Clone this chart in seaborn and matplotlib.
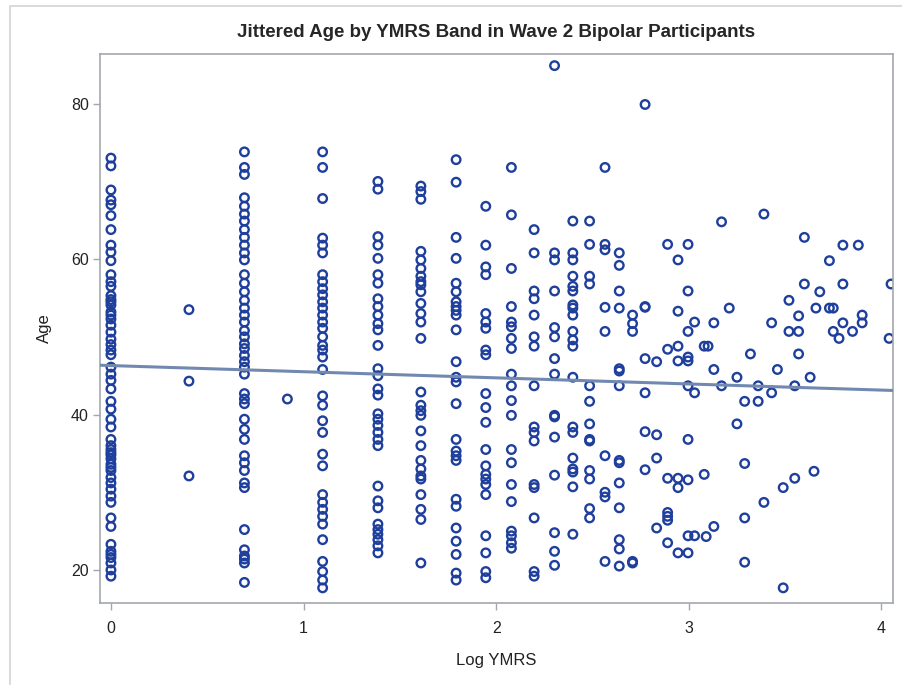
"""Jittered age by YMRS band (wave 2 bipolar participants), seaborn redraw."""
import matplotlib
matplotlib.use("Agg")
import matplotlib.pyplot as plt
import numpy as np
import pandas as pd
import seaborn as sns
from matplotlib.patches import Rectangle

# log(YMRS) bands and jittered ages
band_x = [0.0, 0.405, 0.693, 0.916, 1.099, 1.386, 1.609, 1.792, 1.946, 2.079,
          2.197, 2.303, 2.398, 2.485, 2.565, 2.639, 2.708, 2.773, 2.833, 2.890,
          2.944, 2.996]
band_age = [
    [73.0, 72.0, 68.9, 67.6, 67.0, 65.6, 63.8, 61.8, 60.9, 59.8, 58.0, 57.1,
     56.5, 55.3, 54.8, 54.5, 54.1, 53.2, 52.8, 52.3, 51.5, 50.6, 49.7, 49.0,
     48.3, 47.7, 46.1, 45.2, 44.4, 43.3, 41.7, 40.7, 39.4, 38.4, 36.8, 36.0,
     35.5, 35.1, 34.8, 34.3, 33.6, 33.2, 32.8, 31.9, 31.2, 30.4, 29.5, 28.7,
     26.7, 25.6, 23.3, 22.4, 22.0, 21.6, 20.9, 20.0, 19.2],
    [53.5, 44.3, 32.1],
    [73.8, 71.8, 70.9, 67.9, 66.8, 65.8, 64.9, 63.8, 62.8, 61.8, 60.8, 59.9,
     58.0, 56.9, 55.8, 54.7, 53.7, 52.8, 51.9, 50.8, 50.0, 49.1, 48.5, 47.6,
     46.8, 46.1, 45.2, 42.7, 42.0, 41.4, 39.4, 38.1, 36.8, 34.7, 33.8, 32.8,
     31.2, 30.6, 25.2, 22.6, 21.8, 21.4, 20.9, 18.4],
    [42.0],
    [73.8, 71.8, 67.8, 62.7, 61.8, 60.8, 58.0, 57.1, 56.2, 55.4, 54.5, 53.7,
     52.8, 51.9, 51.1, 50.0, 48.9, 48.3, 47.4, 45.8, 42.4, 41.2, 39.2, 37.7,
     34.9, 33.4, 29.7, 28.7, 27.8, 26.9, 25.9, 23.9, 21.1, 19.8, 18.7, 17.7],
    [70.0, 69.0, 62.9, 61.8, 60.1, 58.0, 56.9, 54.9, 53.9, 52.8, 51.7, 50.9,
     48.9, 45.9, 45.0, 43.3, 42.5, 40.1, 39.4, 38.6, 37.7, 36.8, 36.0, 30.8,
     28.9, 28.0, 25.9, 25.2, 24.6, 23.9, 23.1, 22.2],
    [69.4, 68.7, 67.7, 61.0, 59.9, 58.8, 57.8, 57.1, 56.7, 55.8, 54.3, 53.0,
     51.9, 49.8, 42.9, 41.2, 40.5, 39.9, 37.9, 36.0, 34.1, 33.0, 32.1, 31.7,
     29.7, 27.8, 26.5, 20.9],
    [72.8, 69.9, 62.8, 60.1, 56.9, 55.8, 54.5, 53.9, 53.4, 52.8, 50.9, 46.8,
     44.8, 44.2, 41.4, 36.8, 35.3, 34.7, 34.1, 29.1, 28.2, 25.4, 23.7, 22.0,
     19.6, 18.7],
    [66.8, 61.8, 59.0, 58.0, 53.0, 51.9, 51.1, 48.3, 47.7, 42.7, 40.9, 39.0,
     35.5, 33.4, 32.3, 31.7, 31.0, 29.7, 24.4, 22.2, 19.8, 19.0],
    [71.8, 65.7, 58.8, 53.9, 51.9, 51.3, 49.8, 48.5, 45.2, 43.7, 41.8, 39.9,
     35.5, 33.8, 31.0, 28.8, 25.0, 24.4, 23.5, 22.8],
    [63.8, 60.8, 55.9, 54.9, 52.8, 50.0, 48.8, 43.7, 38.4, 37.7, 36.6, 31.0,
     30.6, 26.7, 19.8, 19.2],
    [84.9, 60.8, 59.9, 55.9, 51.2, 50.0, 47.2, 45.2, 39.9, 39.7, 37.1, 32.2,
     24.8, 22.4, 20.6],
    [64.9, 60.8, 59.9, 57.8, 56.5, 55.9, 54.1, 53.7, 52.8, 50.7, 49.6, 48.8,
     44.8, 38.4, 37.7, 34.4, 33.0, 32.6, 30.7, 24.6],
    [64.9, 61.9, 57.8, 56.8, 43.7, 41.7, 38.8, 36.8, 36.6, 32.8, 31.7, 27.9,
     26.7],
    [71.8, 61.9, 61.2, 53.8, 50.7, 34.7, 30.0, 29.4, 21.1],
    [60.8, 59.2, 55.9, 53.7, 45.9, 45.6, 43.7, 34.1, 33.8, 31.2, 28.0, 23.9,
     22.7, 20.5],
    [52.8, 51.7, 50.7, 21.1, 20.9],
    [79.9, 53.8, 53.9, 47.2, 42.8, 37.8, 32.9],
    [46.8, 37.4, 34.4, 25.4],
    [61.9, 48.4, 31.8, 27.4, 26.9, 26.4, 23.5],
    [59.9, 53.3, 48.8, 46.9, 31.8, 30.6, 22.2],
    [61.9, 55.9, 50.7, 47.4, 46.9, 43.7, 36.8, 31.6, 24.4, 22.2],
]

# upper tail: bands thin out, points read individually
tail_x = [3.03, 3.03, 3.03, 3.08, 3.08, 3.10, 3.09, 3.13, 3.13, 3.13, 3.17,
          3.17, 3.21, 3.25, 3.25, 3.29, 3.29, 3.29, 3.29, 3.32, 3.36, 3.36,
          3.39, 3.39, 3.43, 3.43, 3.46, 3.49, 3.49, 3.52, 3.52, 3.55, 3.55,
          3.57, 3.57, 3.57, 3.60, 3.60, 3.63, 3.65, 3.66, 3.68, 3.73, 3.73,
          3.75, 3.75, 3.78, 3.80, 3.80, 3.80, 3.85, 3.88, 3.90, 3.90, 4.04,
          4.05]
tail_age = [51.9, 42.8, 24.4, 48.8, 32.3, 48.8, 24.3, 51.8, 45.8, 25.6, 64.8,
            43.7, 53.7, 44.8, 38.8, 41.7, 33.7, 26.7, 21.0, 47.8, 43.7, 41.7,
            65.8, 28.7, 51.8, 42.8, 45.8, 30.6, 17.7, 54.7, 50.7, 43.7, 31.8,
            52.7, 50.7, 47.8, 62.8, 56.8, 44.8, 32.7, 53.7, 55.8, 59.8, 53.7,
            53.7, 50.7, 49.8, 61.8, 56.8, 51.8, 50.7, 61.8, 52.8, 51.8, 49.8,
            56.8]

# fitted regression line (ends)
fit_x = [-0.06, 4.06]
fit_age = [46.35, 43.1]

x_ticks = [0, 1, 2, 3, 4]
y_ticks = [20, 40, 60, 80]

MARKER = "#1f3f9c"
FIT = "#7189b0"
FRAME = "#a3a7ab"

sns.set_style("white")
plt.rcParams["font.family"] = ["Liberation Sans", "DejaVu Sans"]

rows = [(bx, a) for bx, ages in zip(band_x, band_age) for a in ages]
rows += list(zip(tail_x, tail_age))
df = pd.DataFrame(rows, columns=["log_ymrs", "age"])
fit = pd.DataFrame({"log_ymrs": fit_x, "age": fit_age})

fig = plt.figure(figsize=(9.03, 6.85), dpi=100)
ax = fig.add_axes([0.1107, 0.1197, 0.8782, 0.8015])

sns.lineplot(data=fit, x="log_ymrs", y="age", color=FIT, linewidth=2.2,
             ax=ax, zorder=3)
sns.scatterplot(data=df, x="log_ymrs", y="age", marker="o", s=38,
                facecolors="none", edgecolor=MARKER, linewidth=1.7,
                ax=ax, zorder=2)

ax.set_xlim(-0.057, 4.06)
ax.set_ylim(15.75, 86.4)
ax.set_xticks(x_ticks)
ax.set_yticks(y_ticks)
ax.tick_params(axis="both", which="major", bottom=True, left=True,
               direction="out", length=5, width=1, color=FRAME,
               labelsize=11.5, labelcolor="#222222", pad=3)
ax.tick_params(axis="x", pad=8)
for sp in ax.spines.values():
    sp.set_color(FRAME)
    sp.set_linewidth(1.2)

ax.set_xlabel("Log YMRS", fontsize=12, color="#222222", labelpad=12)
ax.set_ylabel("Age", fontsize=12, color="#222222", labelpad=14)
fig.suptitle("Jittered Age by YMRS Band in Wave 2 Bipolar Participants",
             x=0.549, y=0.952, va="center", fontsize=13.5, fontweight="bold")

# light outer frame of the exported graph (left and top edges only visible)
fig.patches.append(Rectangle((10 / 903, -0.1), 1.2, 1.1 - 6 / 685,
                             transform=fig.transFigure, fill=False,
                             edgecolor="#d3d3d3", linewidth=1.2))

fig.savefig("out.png", dpi=100)
plt.close(fig)
